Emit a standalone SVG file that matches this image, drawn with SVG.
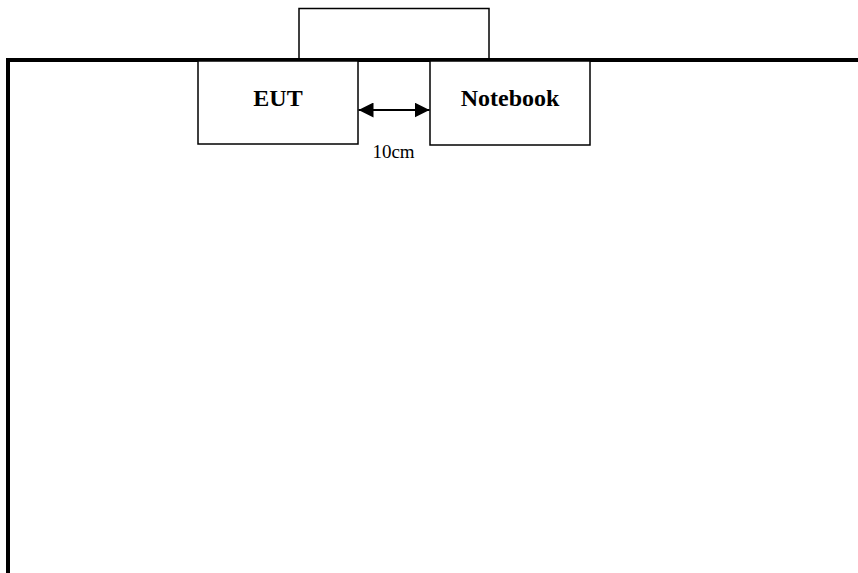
<svg xmlns="http://www.w3.org/2000/svg" width="858" height="573" viewBox="0 0 858 573">
<style>
.box{fill:#fff;stroke:#000;stroke-width:1.5}
.lbl{font-family:"Liberation Serif",serif;font-weight:bold;font-size:24px;text-anchor:middle;fill:#000}
.dim{font-family:"Liberation Serif",serif;font-size:19px;text-anchor:middle;fill:#000}
</style>
<defs>
<marker id="ah" viewBox="0 0 15 15" refX="15" refY="7.5" markerWidth="15" markerHeight="15" markerUnits="userSpaceOnUse" orient="auto-start-reverse">
<path d="M0,0 L15,7.5 L0,15 Z" fill="#000"/>
</marker>
</defs>
<rect width="858" height="573" fill="#fff"/>
<g id="top-box"><rect class="box" x="299" y="8.5" width="190" height="51.5"/></g>
<g id="table"><path d="M858,60 H8 V573" fill="none" stroke="#000" stroke-width="4"/></g>
<g id="eut"><rect class="box" x="198" y="61" width="160" height="83"/><text class="lbl" x="278" y="106">EUT</text></g>
<g id="notebook"><rect class="box" x="430" y="61" width="160" height="84"/><text class="lbl" x="510" y="106">Notebook</text></g>
<g id="connectors"><line x1="358.5" y1="110" x2="429.5" y2="110" stroke="#000" stroke-width="2" marker-start="url(#ah)" marker-end="url(#ah)"/></g>
<text class="dim" x="393.5" y="158">10cm</text>
</svg>
